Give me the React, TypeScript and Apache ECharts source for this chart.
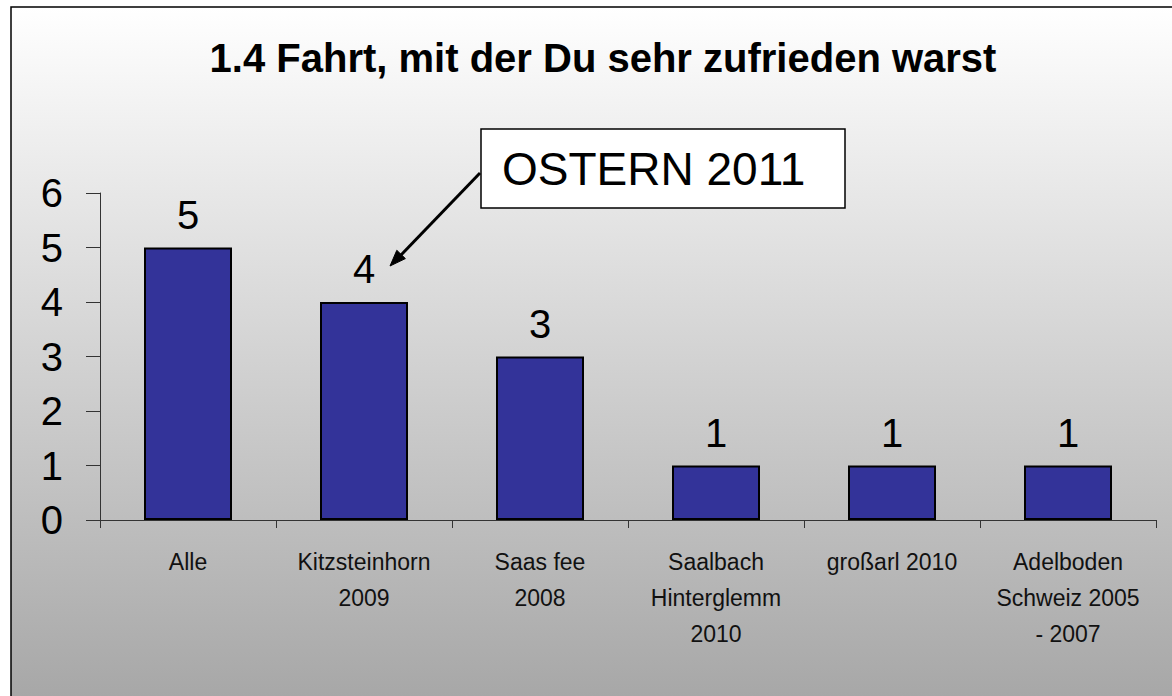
import React, { useEffect, useRef } from "react";
import * as echarts from "echarts";

const categories = [
  "Alle",
  "Kitzsteinhorn\n2009",
  "Saas fee\n2008",
  "Saalbach\nHinterglemm\n2010",
  "großarl 2010",
  "Adelboden\nSchweiz 2005\n- 2007",
];
const values = [5, 4, 3, 1, 1, 1];
const yTicks = { min: 0, max: 6, interval: 1 };
const titleText = "1.4 Fahrt, mit der Du sehr zufrieden warst";
const noteText = "OSTERN 2011";

const FONT = "'Liberation Sans', Arial, sans-serif";

export default function App() {
  const ref = useRef<HTMLDivElement>(null);
  useEffect(() => {
    if (!ref.current) return;
    const chart = echarts.init(ref.current, undefined, { renderer: "svg" });
    chart.setOption({
      animation: false,
      backgroundColor: "#ffffff",
      title: {
        text: titleText,
        left: 598,
        top: 33,
        textAlign: "center",
        textStyle: { fontFamily: FONT, fontWeight: "bold", fontSize: 40, color: "#000" },
      },
      grid: { left: 100, right: 16, top: 193, bottom: 176 },
      xAxis: {
        type: "category",
        data: categories,
        axisLine: { lineStyle: { color: "#333", width: 1 } },
        axisTick: { show: true, length: 8, alignWithLabel: false, lineStyle: { color: "#333" } },
        axisLabel: {
          interval: 0,
          fontFamily: FONT,
          fontSize: 23,
          lineHeight: 36,
          margin: 24,
          color: "#111",
        },
      },
      yAxis: {
        type: "value",
        min: yTicks.min,
        max: yTicks.max,
        interval: yTicks.interval,
        axisLine: { show: true, lineStyle: { color: "#333", width: 1 } },
        axisTick: { show: true, length: 14, lineStyle: { color: "#333" } },
        splitLine: { show: false },
        axisLabel: { fontFamily: FONT, fontSize: 40, margin: 37, color: "#000" },
      },
      series: [
        {
          type: "bar",
          data: values,
          barWidth: "50%",
          itemStyle: { color: "#333399", borderColor: "#000", borderWidth: 2 },
          label: {
            show: true,
            position: "top",
            distance: 13,
            fontFamily: FONT,
            fontSize: 40,
            color: "#000",
          },
          z: 5,
        },
      ],
      graphic: [
        {
          type: "rect",
          z: -100,
          silent: true,
          shape: { x: 11, y: 7, width: 1180, height: 699 },
          style: {
            fill: new echarts.graphic.LinearGradient(0, 0, 0, 1, [
              { offset: 0, color: "#ffffff" },
              { offset: 1, color: "#a6a6a6" },
            ]),
            stroke: "#000",
            lineWidth: 1.5,
          },
        },
        {
          type: "rect",
          z: 50,
          shape: { x: 481, y: 129, width: 364, height: 79 },
          style: { fill: "#fff", stroke: "#000", lineWidth: 1.5 },
        },
        {
          type: "text",
          z: 51,
          x: 502,
          y: 169,
          style: {
            text: noteText,
            fontFamily: FONT,
            fontSize: 46,
            fill: "#000",
            textAlign: "left",
            textVerticalAlign: "middle",
          },
        },
        {
          type: "line",
          z: 51,
          shape: { x1: 480, y1: 173, x2: 401, y2: 255 },
          style: { stroke: "#000", lineWidth: 3 },
        },
        {
          type: "polygon",
          z: 51,
          shape: { points: [[390, 266], [405.4, 258.6], [396.8, 250.3]] },
          style: { fill: "#000", stroke: "#000", lineWidth: 1 },
        },
      ],
    });
    return () => chart.dispose();
  }, []);
  return (
    <div
      ref={ref}
      style={{ position: "fixed", left: 0, top: 0, width: 1172, height: 696 }}
    />
  );
}
